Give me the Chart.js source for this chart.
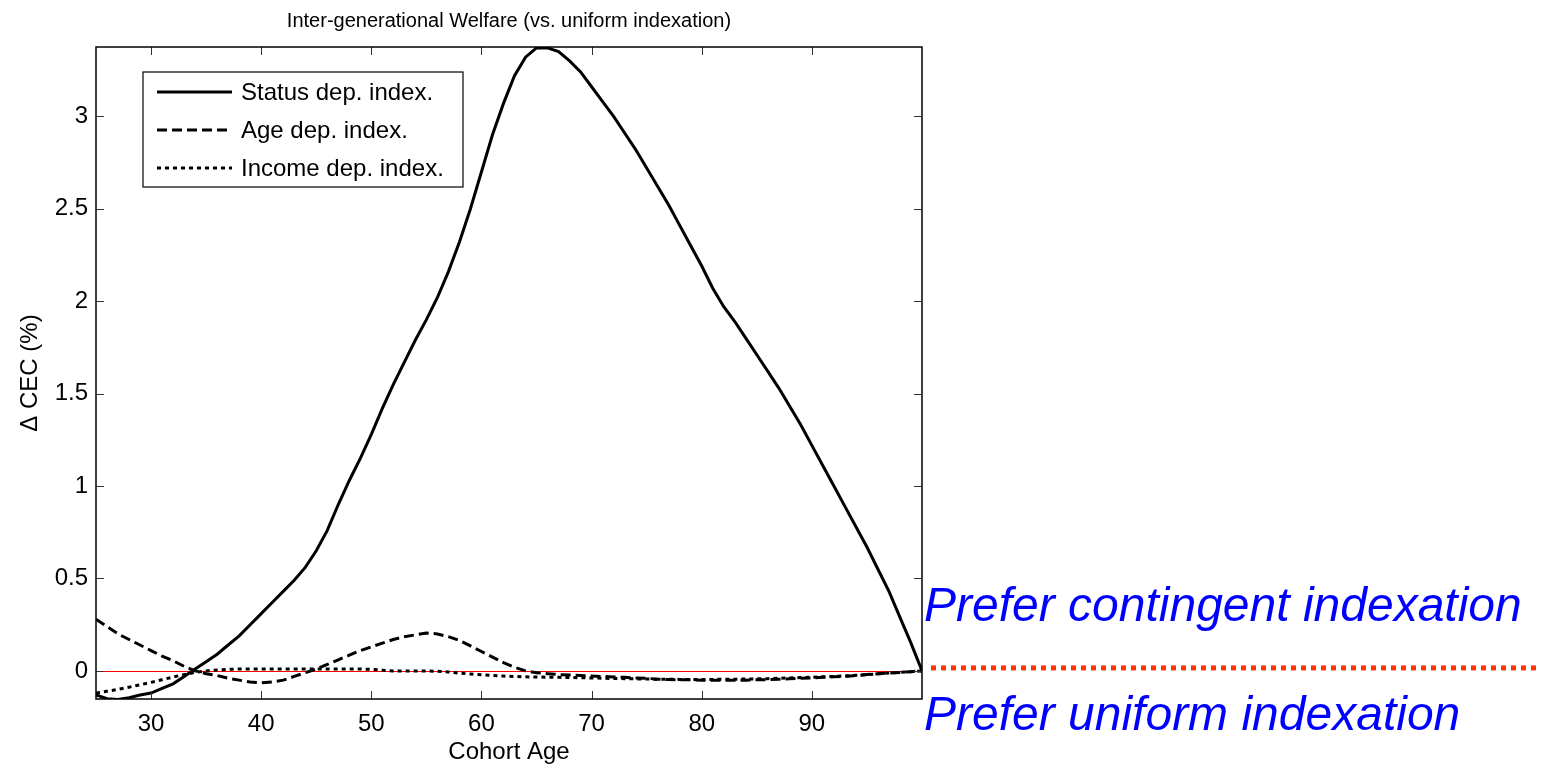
<!DOCTYPE html>
<html>
<head>
<meta charset="utf-8">
<title>Inter-generational Welfare</title>
<script src="https://cdn.jsdelivr.net/npm/chart.js@4.4.1/dist/chart.umd.min.js"></script>
<style>
  html, body { margin: 0; padding: 0; background: #fff; }
  canvas { display: block; }
</style>
</head>
<body>
<canvas id="chart" width="1541" height="764"></canvas>
<script>
// values
const ages = [25, 26, 27, 28, 29, 30, 31, 32, 33, 34, 35, 36, 37, 38, 39, 40, 41, 42, 43, 44,
  45, 46, 47, 48, 49, 50, 51, 52, 53, 54, 55, 56, 57, 58, 59, 60, 61, 62, 63, 64,
  65, 66, 67, 68, 69, 70, 71, 72, 73, 74, 75, 76, 77, 78, 79, 80, 81, 82, 83, 84,
  85, 86, 87, 88, 89, 90, 91, 92, 93, 94, 95, 96, 97, 98, 99, 100]

const statusDep = [-0.13, -0.15, -0.155, -0.145, -0.13, -0.12, -0.095, -0.07, -0.03, 0.01,
  0.05, 0.09, 0.14, 0.19, 0.25, 0.31, 0.37, 0.43, 0.49, 0.56,
  0.65, 0.76, 0.90, 1.03, 1.15, 1.28, 1.42, 1.55, 1.67, 1.79,
  1.90, 2.02, 2.16, 2.32, 2.50, 2.70, 2.90, 3.07, 3.22, 3.32,
  3.37, 3.37, 3.35, 3.30, 3.24, 3.16, 3.08, 3.00, 2.91, 2.82,
  2.72, 2.62, 2.52, 2.41, 2.30, 2.19, 2.07, 1.97, 1.89, 1.80,
  1.71, 1.62, 1.53, 1.43, 1.33, 1.22, 1.11, 1.00, 0.89, 0.78,
  0.67, 0.55, 0.43, 0.29, 0.15, 0.00]

const ageDep = [0.28, 0.24, 0.20, 0.17, 0.14, 0.11, 0.08, 0.055, 0.025, 0.0,
  -0.015, -0.025, -0.04, -0.05, -0.06, -0.065, -0.06, -0.05, -0.03, -0.01,
  0.01, 0.035, 0.06, 0.085, 0.11, 0.13, 0.15, 0.17, 0.185, 0.195,
  0.205, 0.2, 0.185, 0.165, 0.135, 0.105, 0.075, 0.045, 0.02, 0.0,
  -0.01, -0.015, -0.02, -0.022, -0.025, -0.028, -0.03, -0.033, -0.035, -0.038,
  -0.04, -0.045, -0.047, -0.048, -0.048, -0.05, -0.05, -0.05, -0.05, -0.05,
  -0.048, -0.047, -0.045, -0.043, -0.04, -0.038, -0.035, -0.032, -0.03, -0.025,
  -0.02, -0.015, -0.012, -0.008, -0.004, 0.0]

const incomeDep = [-0.12, -0.11, -0.10, -0.088, -0.075, -0.062, -0.048, -0.033, -0.02, -0.008,
  0.0, 0.005, 0.008, 0.01, 0.01, 0.01, 0.01, 0.01, 0.01, 0.01,
  0.01, 0.01, 0.01, 0.01, 0.01, 0.008, 0.004, 0.0, 0.0, 0.0,
  0.0, -0.002, -0.006, -0.012, -0.017, -0.021, -0.025, -0.028, -0.03, -0.032,
  -0.033, -0.034, -0.035, -0.036, -0.037, -0.038, -0.04, -0.041, -0.042, -0.043,
  -0.044, -0.045, -0.045, -0.046, -0.046, -0.046, -0.046, -0.045, -0.045, -0.044,
  -0.043, -0.042, -0.04, -0.038, -0.036, -0.034, -0.032, -0.03, -0.027, -0.024,
  -0.02, -0.016, -0.012, -0.008, -0.004, 0.0]

const seriesNames = ['Status dep. index.', 'Age dep. index.', 'Income dep. index.']
const xTicks = [30, 40, 50, 60, 70, 80, 90]
const yTicks = [0, 0.5, 1, 1.5, 2, 2.5, 3]
const titleText = 'Inter-generational Welfare (vs. uniform indexation)'
const xLabel = 'Cohort Age'
const yLabel = '\u0394 CEC (%)'
const upperNote = 'Prefer contingent indexation'
const lowerNote = 'Prefer uniform indexation'

const FONT = '"Liberation Sans", Arial, Helvetica, sans-serif'

function points(values) {
    return ages.map((a, i) => ({ x: a, y: values[i] }))
}

// MATLAB style frame: box, inward ticks on all sides, title, legend, side notes
let matlabFrame = {
    id: 'matlabFrame',
    beforeDatasetsDraw(chart) {
        let ctx = chart.ctx
        let a = chart.chartArea
        let y0 = chart.scales.y.getPixelForValue(0)
        ctx.save()
        ctx.strokeStyle = '#ff0000'
        ctx.lineWidth = 1
        ctx.beginPath()
        ctx.moveTo(a.left, Math.round(y0) + 0.5)
        ctx.lineTo(a.right, Math.round(y0) + 0.5)
        ctx.stroke()
        ctx.restore()
    },
    afterDraw(chart) {
        let ctx = chart.ctx
        let a = chart.chartArea
        let xs = chart.scales.x
        let ys = chart.scales.y
        ctx.save()

        // ticks
        ctx.strokeStyle = '#333'
        ctx.lineWidth = 1
        ctx.beginPath()
        xTicks.forEach(t => {
            let px = Math.round(xs.getPixelForValue(t)) + 0.5
            ctx.moveTo(px, a.bottom); ctx.lineTo(px, a.bottom - 8)
            ctx.moveTo(px, a.top); ctx.lineTo(px, a.top + 8)
        })
        yTicks.forEach(t => {
            let py = Math.round(ys.getPixelForValue(t)) + 0.5
            ctx.moveTo(a.left, py); ctx.lineTo(a.left + 8, py)
            ctx.moveTo(a.right, py); ctx.lineTo(a.right - 8, py)
        })
        ctx.stroke()

        // box
        ctx.strokeStyle = '#000'
        ctx.lineWidth = 1.5
        ctx.strokeRect(a.left, a.top, a.right - a.left, a.bottom - a.top)

        // title
        ctx.fillStyle = '#000'
        ctx.font = '20px ' + FONT
        ctx.textAlign = 'center'
        ctx.textBaseline = 'middle'
        ctx.fillText(titleText, (a.left + a.right) / 2, 21)

        // legend
        let lx = 143, ly = 72, lw = 320, lh = 115
        ctx.fillStyle = '#fff'
        ctx.fillRect(lx, ly, lw, lh)
        ctx.strokeStyle = '#000'
        ctx.lineWidth = 1.2
        ctx.strokeRect(lx, ly, lw, lh)
        chart.data.datasets.forEach((ds, i) => {
            let rowY = 92 + i * 38
            ctx.strokeStyle = ds.borderColor
            ctx.lineWidth = ds.borderWidth
            ctx.setLineDash(ds.borderDash || [])
            ctx.beginPath()
            ctx.moveTo(157, rowY)
            ctx.lineTo(232, rowY)
            ctx.stroke()
            ctx.setLineDash([])
            ctx.fillStyle = '#000'
            ctx.font = '24px ' + FONT
            ctx.textAlign = 'left'
            ctx.textBaseline = 'middle'
            ctx.fillText(ds.label, 241, rowY + 1)
        })

        // notes to the right of the axes
        let yz = ys.getPixelForValue(0)
        ctx.strokeStyle = '#ff3300'
        ctx.lineWidth = 5
        ctx.setLineDash([5, 5])
        ctx.beginPath()
        ctx.moveTo(931, yz - 3)
        ctx.lineTo(1541, yz - 3)
        ctx.stroke()
        ctx.setLineDash([])

        ctx.fillStyle = '#0000ff'
        ctx.font = 'italic 48px ' + FONT
        ctx.textAlign = 'left'
        ctx.textBaseline = 'alphabetic'
        ctx.fillText(upperNote, 924, 621)
        ctx.fillText(lowerNote, 924, 730)

        ctx.restore()
    }
}

let ctx = document.getElementById('chart').getContext('2d')

let chart = new Chart(ctx, {
    type: 'line',
    data: {
        datasets: [{
            label: seriesNames[0],
            data: points(statusDep),
            borderColor: '#000',
            borderWidth: 3
        }, {
            label: seriesNames[1],
            data: points(ageDep),
            borderColor: '#000',
            borderWidth: 3,
            borderDash: [10, 5]
        }, {
            label: seriesNames[2],
            data: points(incomeDep),
            borderColor: '#000',
            borderWidth: 3,
            borderDash: [4, 4]
        }]
    },
    options: {
        responsive: false,
        animation: false,
        layout: {
            padding: { left: 0, top: 47, right: 619, bottom: 0 }
        },
        elements: {
            point: { radius: 0 },
            line: { tension: 0, borderCapStyle: 'butt' }
        },
        plugins: {
            legend: { display: false },
            tooltip: { enabled: false }
        },
        scales: {
            x: {
                type: 'linear',
                min: 25,
                max: 100,
                afterBuildTicks: scale => { scale.ticks = xTicks.map(v => ({ value: v })) },
                afterFit: scale => { scale.height = 65 },
                grid: { display: false, drawTicks: false },
                border: { display: false },
                ticks: {
                    color: '#000',
                    font: { family: FONT, size: 24 },
                    padding: 11,
                    maxRotation: 0,
                    callback: v => String(v)
                },
                title: {
                    display: true,
                    text: xLabel,
                    color: '#000',
                    font: { family: FONT, size: 24, lineHeight: 1 },
                    padding: { top: 0, bottom: 0 }
                }
            },
            y: {
                min: -0.152,
                max: 3.375,
                afterBuildTicks: scale => { scale.ticks = yTicks.map(v => ({ value: v })) },
                afterFit: scale => { scale.width = 96 },
                grid: { display: false, drawTicks: false },
                border: { display: false },
                ticks: {
                    color: '#000',
                    font: { family: FONT, size: 24 },
                    padding: 8,
                    callback: v => String(v)
                },
                title: {
                    display: true,
                    text: yLabel,
                    color: '#000',
                    font: { family: FONT, size: 24 },
                    padding: { top: 16, bottom: 0 }
                }
            }
        }
    },
    plugins: [matlabFrame]
})
</script>
</body>
</html>
